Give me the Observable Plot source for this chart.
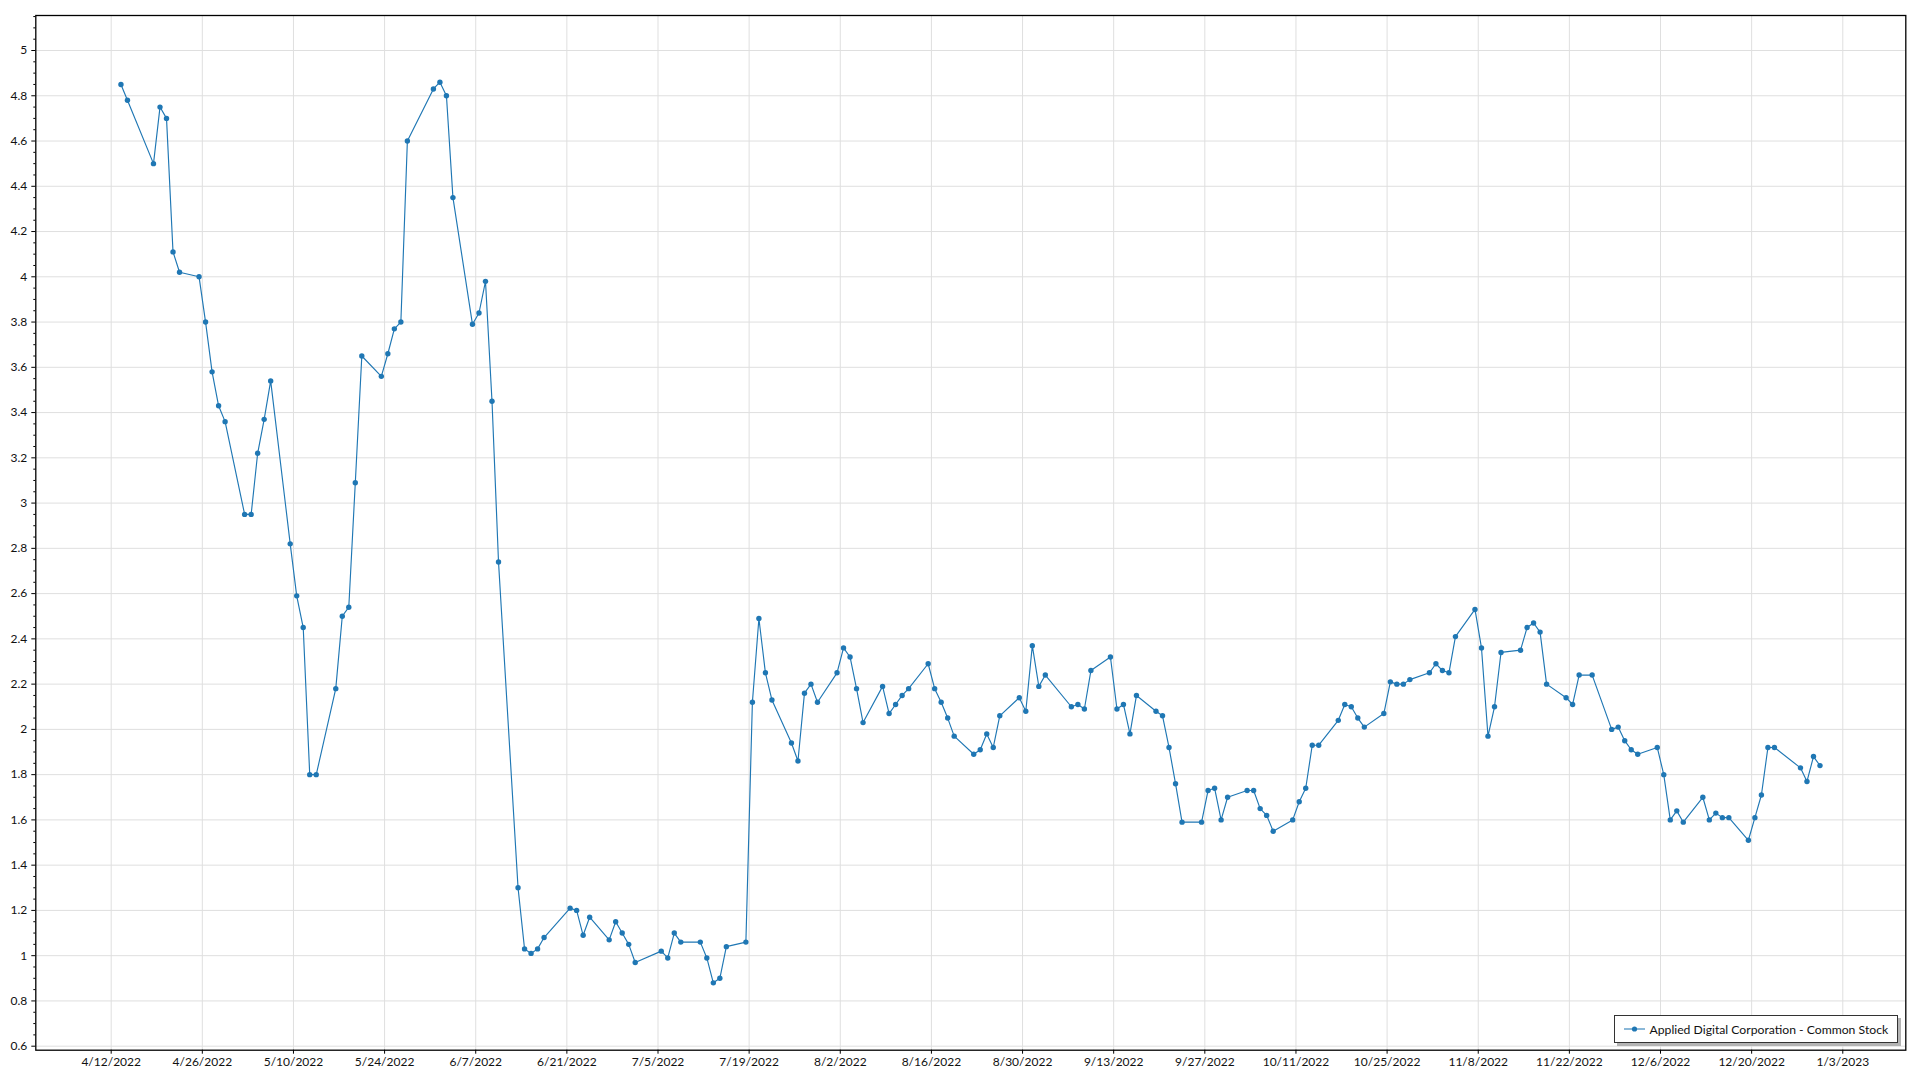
<!DOCTYPE html>
<html>
<head>
<meta charset="utf-8">
<script src="https://cdn.jsdelivr.net/npm/d3@7"></script>
<script src="https://cdn.jsdelivr.net/npm/@observablehq/plot@0.6"></script>
<style>
  body { margin: 0; background: #fff; }
  #wrap { position: relative; width: 1920px; height: 1080px; font-family: "Segoe UI", Lato, "Noto Sans", sans-serif; }
  #legend {
    position: absolute; left: 1614px; top: 1015px; width: 284px; height: 28px;
    box-sizing: border-box; border: 1.5px solid #333; background: #fff;
    box-shadow: 3px 3px 0 #b4b4b4; display: flex; align-items: center;
    font-size: 12.2px; color: #111; white-space: nowrap;
  }
  #legend svg { margin-left: 8.5px; margin-right: 5px; flex: none; }
</style>
</head>
<body>
<div id="wrap">
  <div id="chart"></div>
  <div id="legend">
    <svg width="21" height="10"><line x1="0" x2="21" y1="5" y2="5" stroke="#1f77b4" stroke-opacity="0.65" stroke-width="1.6"></line><circle cx="10.5" cy="5" r="2.6" fill="#1f77b4"></circle></svg>
    <span id="legend-label"></span>
  </div>
</div>
<script>
const seriesName = "Applied Digital Corporation - Common Stock";

const dates = [
  "2022-04-13","2022-04-14","2022-04-18","2022-04-19","2022-04-20","2022-04-21","2022-04-22",
  "2022-04-25","2022-04-26","2022-04-27","2022-04-28","2022-04-29",
  "2022-05-02","2022-05-03","2022-05-04","2022-05-05","2022-05-06",
  "2022-05-09","2022-05-10","2022-05-11","2022-05-12","2022-05-13",
  "2022-05-16","2022-05-17","2022-05-18","2022-05-19","2022-05-20",
  "2022-05-23","2022-05-24","2022-05-25","2022-05-26","2022-05-27",
  "2022-05-31","2022-06-01","2022-06-02","2022-06-03",
  "2022-06-06","2022-06-07","2022-06-08","2022-06-09","2022-06-10",
  "2022-06-13","2022-06-14","2022-06-15","2022-06-16","2022-06-17",
  "2022-06-21","2022-06-22","2022-06-23","2022-06-24",
  "2022-06-27","2022-06-28","2022-06-29","2022-06-30","2022-07-01",
  "2022-07-05","2022-07-06","2022-07-07","2022-07-08",
  "2022-07-11","2022-07-12","2022-07-13","2022-07-14","2022-07-15",
  "2022-07-18","2022-07-19","2022-07-20","2022-07-21","2022-07-22",
  "2022-07-25","2022-07-26","2022-07-27","2022-07-28","2022-07-29",
  "2022-08-01","2022-08-02","2022-08-03","2022-08-04","2022-08-05",
  "2022-08-08","2022-08-09","2022-08-10","2022-08-11","2022-08-12",
  "2022-08-15","2022-08-16","2022-08-17","2022-08-18","2022-08-19",
  "2022-08-22","2022-08-23","2022-08-24","2022-08-25","2022-08-26",
  "2022-08-29","2022-08-30","2022-08-31","2022-09-01","2022-09-02",
  "2022-09-06","2022-09-07","2022-09-08","2022-09-09",
  "2022-09-12","2022-09-13","2022-09-14","2022-09-15","2022-09-16",
  "2022-09-19","2022-09-20","2022-09-21","2022-09-22","2022-09-23",
  "2022-09-26","2022-09-27","2022-09-28","2022-09-29","2022-09-30",
  "2022-10-03","2022-10-04","2022-10-05","2022-10-06","2022-10-07",
  "2022-10-10","2022-10-11","2022-10-12","2022-10-13","2022-10-14",
  "2022-10-17","2022-10-18","2022-10-19","2022-10-20","2022-10-21",
  "2022-10-24","2022-10-25","2022-10-26","2022-10-27","2022-10-28",
  "2022-10-31","2022-11-01","2022-11-02","2022-11-03","2022-11-04",
  "2022-11-07","2022-11-08","2022-11-09","2022-11-10","2022-11-11",
  "2022-11-14","2022-11-15","2022-11-16","2022-11-17","2022-11-18",
  "2022-11-21","2022-11-22","2022-11-23","2022-11-25",
  "2022-11-28","2022-11-29","2022-11-30","2022-12-01","2022-12-02",
  "2022-12-05","2022-12-06","2022-12-07","2022-12-08","2022-12-09",
  "2022-12-12","2022-12-13","2022-12-14","2022-12-15","2022-12-16",
  "2022-12-19","2022-12-20","2022-12-21","2022-12-22","2022-12-23",
  "2022-12-27","2022-12-28","2022-12-29","2022-12-30"
];

const closes = [
  4.85,4.78,4.50,4.75,4.70,4.11,4.02,
  4.00,3.80,3.58,3.43,3.36,
  2.95,2.95,3.22,3.37,3.54,
  2.82,2.59,2.45,1.80,1.80,
  2.18,2.50,2.54,3.09,3.65,
  3.56,3.66,3.77,3.80,4.60,
  4.83,4.86,4.80,4.35,
  3.79,3.84,3.98,3.45,2.74,
  1.30,1.03,1.01,1.03,1.08,
  1.21,1.20,1.09,1.17,
  1.07,1.15,1.10,1.05,0.97,
  1.02,0.99,1.10,1.06,
  1.06,0.99,0.88,0.90,1.04,
  1.06,2.12,2.49,2.25,2.13,
  1.94,1.86,2.16,2.20,2.12,
  2.25,2.36,2.32,2.18,2.03,
  2.19,2.07,2.11,2.15,2.18,
  2.29,2.18,2.12,2.05,1.97,
  1.89,1.91,1.98,1.92,2.06,
  2.14,2.08,2.37,2.19,2.24,
  2.10,2.11,2.09,2.26,
  2.32,2.09,2.11,1.98,2.15,
  2.08,2.06,1.92,1.76,1.59,
  1.59,1.73,1.74,1.60,1.70,
  1.73,1.73,1.65,1.62,1.55,
  1.60,1.68,1.74,1.93,1.93,
  2.04,2.11,2.10,2.05,2.01,
  2.07,2.21,2.20,2.20,2.22,
  2.25,2.29,2.26,2.25,2.41,
  2.53,2.36,1.97,2.10,2.34,
  2.35,2.45,2.47,2.43,2.20,
  2.14,2.11,2.24,2.24,
  2.00,2.01,1.95,1.91,1.89,
  1.92,1.80,1.60,1.64,1.59,
  1.70,1.60,1.63,1.61,1.61,
  1.51,1.61,1.71,1.92,1.92,
  1.83,1.77,1.88,1.84
];

const xTickDates = [
  "2022-04-12","2022-04-26","2022-05-10","2022-05-24","2022-06-07","2022-06-21","2022-07-05",
  "2022-07-19","2022-08-02","2022-08-16","2022-08-30","2022-09-13","2022-09-27","2022-10-11",
  "2022-10-25","2022-11-08","2022-11-22","2022-12-06","2022-12-20","2023-01-03"
];
const yTicks = [0.6,0.8,1,1.2,1.4,1.6,1.8,2,2.2,2.4,2.6,2.8,3,3.2,3.4,3.6,3.8,4,4.2,4.4,4.6,4.8,5];
const yMinorTicks = d3.range(0.6, 5.16, 0.05).map(v => +v.toFixed(2)).filter(v => !yTicks.includes(v));

const xDomain = ["2022-03-31T10:05:00Z", "2023-01-12T16:20:00Z"];
const yDomain = [0.5823, 5.1547];

const data = dates.map((d, i) => ({ date: new Date(d + "T12:00:00Z"), value: closes[i] }));
const tickDates = xTickDates.map(d => new Date(d + "T00:00:00Z"));
const fmtDate = d => `${d.getUTCMonth() + 1}/${d.getUTCDate()}/${d.getUTCFullYear()}`;
const fmtY = v => String(+(+v).toFixed(2));
const color = "#1f77b4";
const gridColor = "#dfdfdf";

const chart = Plot.plot({
  width: 1920,
  height: 1080,
  marginLeft: 35.3,
  marginRight: 14.7,
  marginTop: 15,
  marginBottom: 30.3,
  style: { fontFamily: '"Segoe UI", Lato, "Noto Sans", sans-serif', fontSize: "12px", color: "#111", background: "#fff", overflow: "visible" },
  x: { type: "utc", domain: xDomain.map(d => new Date(d)) },
  y: { domain: yDomain },
  marks: [
    Plot.gridX(tickDates, { stroke: gridColor, strokeOpacity: 1, strokeWidth: 1 }),
    Plot.gridY(yTicks, { stroke: gridColor, strokeOpacity: 1, strokeWidth: 1 }),
    Plot.axisX({ ticks: tickDates, tickFormat: fmtDate, tickSize: 4, tickPadding: 3.5, label: null, stroke: "#000" }),
    Plot.axisY({ ticks: yTicks, tickFormat: fmtY, tickSize: 4, tickPadding: 4.5, label: null, stroke: "#000" }),
    Plot.axisY({ ticks: yMinorTicks, tickFormat: () => "", tickSize: 2, label: null, stroke: "#000" }),
    Plot.line(data, { x: "date", y: "value", stroke: color, strokeWidth: 1.15 }),
    Plot.dot(data, { x: "date", y: "value", r: 2.7, fill: color }),
    Plot.frame({ stroke: "#000", strokeWidth: 1.3 })
  ]
});
document.getElementById("chart").append(chart);
document.getElementById("legend-label").textContent = seriesName;
</script>
</body>
</html>
